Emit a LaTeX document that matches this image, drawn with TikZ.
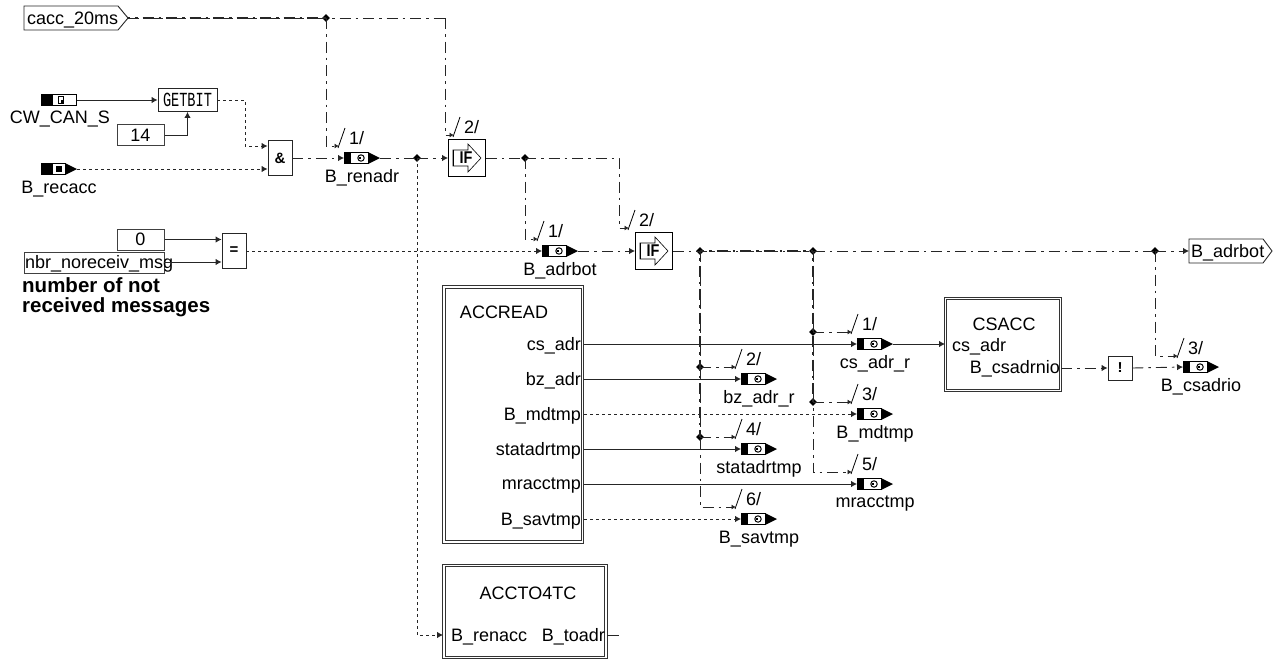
\documentclass[tikz,border=0pt]{standalone}
\usepackage{fontspec}
\usepackage{graphicx}
\setmainfont{Liberation Sans}
\newfontfamily\gbmono{Liberation Mono}
\usetikzlibrary{arrows.meta,shapes.geometric}
\tikzset{
 x=1pt,y=-1pt,
 wire/.style={line width=.9pt,black!85},
 tip/.style={-{Latex[length=6pt,width=6.5pt]}},
 ticktip/.style={-{Latex[length=4.5pt,width=5pt]}},
 solidw/.style={wire},
 dotw/.style={wire,dash pattern=on 3pt off 3pt},
 dashd/.style={wire,dash pattern=on 11pt off 5pt on 2.5pt off 5pt},
 dashlay/.style={wire,line width=1.1pt,dash pattern=on 11pt off 5pt on 2.5pt off 5pt,dash phase=#1},
 junc/.style={diamond,fill=black,inner sep=0pt,minimum width=8pt,minimum height=8pt},
 txt/.style={inner sep=0pt,yshift=-1.8pt,font=\fontsize{18}{18}\selectfont},
 btxt/.style={inner sep=0pt,font=\fontsize{20.5}{20.5}\selectfont\bfseries,anchor=west},
 opbox/.style={draw=black!85,line width=.9pt,inner sep=0pt,fill=white,font=\fontsize{15}{15}\selectfont\bfseries},
 constbox/.style={draw=black!75,line width=1pt,inner sep=0pt,fill=white,font=\fontsize{18}{18}\selectfont},
 subsys/.style={draw=black!80,double,line width=.8pt,double distance=1.6pt,inner sep=0pt},
 ghost/.style={inner sep=0pt,minimum width=36pt,minimum height=12pt,anchor=west},
}
% name, x of black start, y, label
\newcommand\varblk[4]{%
 \node[ghost] (#1) at (#2,#3) {};
 \begin{scope}[shift={(#2,#3)}]
  \fill[black] (0,-6) rectangle (6,6);
  \fill[black] (24,-6) -- (36,0) -- (24,6) -- cycle;
  \draw[black,line width=.9pt,fill=white] (6,-5.5) rectangle (24,5.5);
  \draw[black,line width=1pt] (17,0) circle (3.2pt);
  \fill[black] (14.5,-1) rectangle (16.5,1);
  \node[txt] (#1l) at (18,18) {#4};
 \end{scope}}
% name, x, y of left of the box
\newcommand\ifblk[3]{%
 \node[draw=black,line width=.9pt,minimum width=37pt,minimum height=37pt,inner sep=0pt,anchor=west] (#1) at (#2,#3) {};
 \begin{scope}[shift={(#2,#3)}]
  \draw[black,line width=.6pt] (5,-8) -- (20,-8) -- (20,-14) -- (33,0) -- (20,14) -- (20,8) -- (5,8) -- cycle;
  \draw[black,line width=.9pt] (5,-8) -- (5,8);
  \node[inner sep=0pt,font=\fontsize{17}{17}\selectfont\bfseries] (#1t) at (18,0) {\scalebox{.85}[1]{IF}};
 \end{scope}}
% name, x, y of the arrow end, text
\newcommand\tick[4]{%
 \coordinate (#1) at (#2,#3);
 \draw[black,line width=.8pt] (#2-1,#3+2) -- (#2+6,#3-18);
 \node[txt,anchor=west] (#1l) at (#2+10,#3-10) {#4};}
\begin{document}
\begin{tikzpicture}
\useasboundingbox (0,0) rectangle (1277,662);

% inputs and outputs
\draw[black!85,line width=.9pt] (24,6) -- (118,6) -- (128,18) -- (118,30) -- (24,30) -- cycle;
\node[txt,anchor=west] (cacc) at (27,18) {cacc\_20ms};
\coordinate (caccout) at (128,18);

\node[ghost,minimum width=36pt] (cw) at (41,100) {};
\fill[black] (41,94) rectangle (52,106);
\draw[black,line width=.9pt] (52,94.5) rectangle (76.5,105.5);
\draw[black,line width=.9pt] (58,96.5) rectangle (63.5,103.5);
\fill[black] (60.5,99.5) rectangle (63.5,103.5);
\node[txt] (cwl) at (60,117) {CW\_CAN\_S};

\node[ghost] (rec) at (41,169) {};
\fill[black] (41,163) rectangle (52,175);
\fill[black] (65,163) -- (77,169) -- (65,175) -- cycle;
\draw[black,line width=.9pt] (52,163.5) rectangle (65,174.5);
\fill[black] (56,166) rectangle (62,172);
\node[txt] (recl) at (59,187) {B\_recacc};

\node[opbox,minimum width=59pt,minimum height=23pt] (getbit) at (187.5,100) {\gbmono\mdseries\scalebox{.68}[1]{\fontsize{20}{20}\selectfont GETBIT}};
\node[constbox,minimum width=47pt,minimum height=21pt] (c14) at (140.5,135) {14};
\node[opbox,minimum width=24pt,minimum height=35pt] (and) at (280,158) {\&};

\node[constbox,minimum width=47pt,minimum height=21pt] (c0) at (140.5,239.5) {0};
\draw[black!75,line width=1pt] (24,252) rectangle (164,273);
\node[txt,anchor=west] (nbr) at (25,262.5) {nbr\_noreceiv\_msg};
\coordinate (nbrout) at (164,262);
\node[opbox,minimum width=24pt,minimum height=35pt] (eq) at (234,251) {=};
\node[btxt] (d1) at (22,285.5) {number of not};
\node[btxt] (d2) at (22,307.5) {received messages};

% variable blocks
\varblk{renadr}{344}{158}{B\_renadr}
\ifblk{if1}{448}{158}
\varblk{adrbot}{542}{251}{B\_adrbot}
\ifblk{if2}{635}{251}

% subsystems
\node[subsys,minimum width=138.5pt,minimum height=255pt,anchor=north west] (accread) at (443.5,286.5) {};
\node[txt] (accreadt) at (504,310) {ACCREAD};
\foreach \nm/\yy/\tx in {p1/344/cs\_adr,p2/379/bz\_adr,p3/414/B\_mdtmp,p4/449/statadrtmp,p5/484/mracctmp,p6/519/B\_savtmp}{
  \node[txt,anchor=east] (\nm) at (581,\yy) {\tx};
}
\coordinate (o1) at (584,344);
\coordinate (o2) at (584,379);
\coordinate (o3) at (584,414);
\coordinate (o4) at (584,449);
\coordinate (o5) at (584,484);
\coordinate (o6) at (584,519);

\node[subsys,minimum width=162pt,minimum height=92pt,anchor=north west] (accto) at (443.5,565) {};
\node[txt] (acctot) at (528,591) {ACCTO4TC};
\node[txt,anchor=west] (renacc) at (451,635) {B\_renacc};
\node[txt,anchor=east] (toadr) at (605,635) {B\_toadr};
\coordinate (accin) at (443,635);
\coordinate (accout) at (607,635);
\coordinate (stub) at (619,635);

\node[subsys,minimum width=115pt,minimum height=92pt,anchor=north west] (csacc) at (945,298) {};
\node[txt] (csacct) at (1004,322) {CSACC};
\node[txt,anchor=west] (csin) at (952,345) {cs\_adr};
\node[txt,anchor=east] (csout) at (1060,367) {B\_csadrnio};
\coordinate (csa) at (945,344);
\coordinate (csb) at (1061,368);

\varblk{csr}{857}{344}{cs\_adr\_r}
\varblk{bzr}{741}{379}{bz\_adr\_r}
\varblk{mdt}{857}{414}{B\_mdtmp}
\varblk{sta}{741}{449}{statadrtmp}
\varblk{mra}{857}{484}{mracctmp}
\varblk{sav}{741}{519}{B\_savtmp}
\varblk{csrio}{1183}{367}{B\_csadrio}

\node[opbox,minimum width=24pt,minimum height=24pt] (notb) at (1120,368) {\gbmono !};

\draw[black!85,line width=.9pt] (1189,239) -- (1263,239) -- (1272,251) -- (1263,263) -- (1189,263) -- cycle;
\node[txt,anchor=west] (bout) at (1191,251) {B\_adrbot};
\coordinate (boutin) at (1189,251);

% junctions
\node[junc] (j1) at (326,18) {};
\node[junc] (j2) at (417,158) {};
\node[junc] (j3) at (525,158) {};
\node[junc] (j4) at (700,251) {};
\node[junc] (j5) at (813,251) {};
\node[junc] (j6) at (1155,251) {};
\node[junc] (j7) at (813,332) {};
\node[junc] (j8) at (700,367) {};
\node[junc] (j9) at (813,402) {};
\node[junc] (j10) at (700,437) {};

% ticks
\tick{t1}{339}{146}{1/}
\tick{t2}{454}{135}{2/}
\tick{t3}{538}{239}{1/}
\tick{t4}{629}{228}{2/}
\tick{t5}{852}{332}{1/}
\tick{t6}{736}{367}{2/}
\tick{t7}{852}{402}{3/}
\tick{t8}{736}{437}{4/}
\tick{t9}{852}{472}{5/}
\tick{t10}{736}{507}{6/}
\tick{t11}{1178}{356}{3/}
\coordinate (top2) at (445,18);

% connectors
\draw[solidw,tip] (cw.east) -- (getbit.west);
\draw[solidw,tip] (c14.east) -| (getbit.south);
\draw[dotw,tip] (getbit.east) -- (245,100) |- (and.west |- 0,146);
\draw[dotw,tip] (rec.east) -- (and.west |- rec);
\draw[dashd] (caccout) -- (top2);
\draw[dashlay=9pt] (caccout) -- (j1.center);
\draw[dashd,ticktip] (j1.center) |- (t1);
\draw[dashd,ticktip] (top2) |- (t2);
\draw[dashd,tip] (and.east) -- (renadr.west);
\draw[dashd] (renadr.east) -- (j2.center);
\draw[dashd,tip] (j2.center) -- (if1.west);
\draw[dotw,tip] (j2.center) |- (accin);
\draw[solidw] (accout) -- (stub);
\draw[dashd] (if1.east) -- (j3.center);
\draw[dashd,ticktip] (j3.center) |- (t3);
\draw[dashd,ticktip] (j3.center) -- (619,158) |- (t4);
\draw[solidw,tip] (c0.east) -- (eq.west |- c0);
\draw[solidw,tip] (nbrout) -- (eq.west |- nbrout);
\draw[dotw,tip] (eq.east) -- (adrbot.west);
\draw[dashd,tip] (adrbot.east) -- (if2.west);
\draw[dashd] (if2.east) -- (j6.center);
\draw[dashlay=7pt] (j4.center) -- (j5.center);
\draw[dashd,tip] (j6.center) -- (boutin);
\draw[dashd,ticktip] (j4.center) |- (t10);
\draw[dashlay=9pt] (j4.center) -- (j10.center);
\draw[dashd,ticktip] (j5.center) |- (t9);
\draw[dashlay=9pt] (j5.center) -- (j9.center);
\draw[dashd,ticktip] (j7.center) -- (t5);
\draw[dashd,ticktip] (j8.center) -- (t6);
\draw[dashd,ticktip] (j9.center) -- (t7);
\draw[dashd,ticktip] (j10.center) -- (t8);
\draw[solidw,tip] (o1) -- (csr.west);
\draw[solidw,tip] (csr.east) -- (csa);
\draw[solidw,tip] (o2) -- (bzr.west);
\draw[dotw,tip] (o3) -- (mdt.west);
\draw[solidw,tip] (o4) -- (sta.west);
\draw[solidw,tip] (o5) -- (mra.west);
\draw[dotw,tip] (o6) -- (sav.west);
\draw[dashd,tip] (csb) -- (notb.west);
\draw[dashd,tip] (notb.east) -- (csrio.west);
\draw[dashd,ticktip] (j6.center) |- (t11);
\end{tikzpicture}
\end{document}
